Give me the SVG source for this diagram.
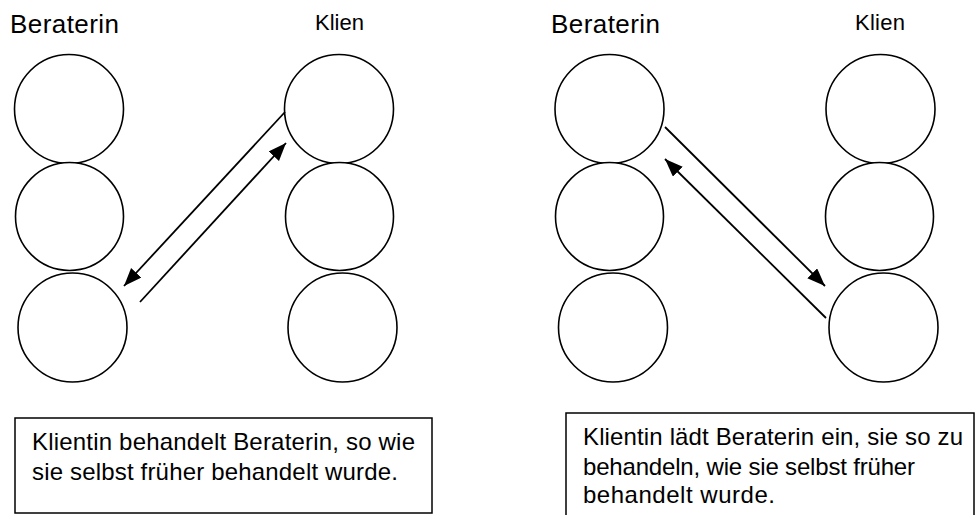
<svg xmlns="http://www.w3.org/2000/svg" width="976" height="515" viewBox="0 0 976 515">
  <style>
    .c { fill: #fff; stroke: #000; stroke-width: 1.6; }
    .lbl { font-family: "Liberation Sans", Arial, sans-serif; fill: #000; }
    .cap { font-size: 24px; }
    .box { fill: #fff; stroke: #000; stroke-width: 1.5; }
    .conn { stroke: #000; stroke-width: 1.8; fill: none; }
  </style>
  <defs>
    <marker id="ah" markerUnits="userSpaceOnUse" markerWidth="19" markerHeight="15" refX="18" refY="7" orient="auto">
      <path d="M0,0 L18,7 L0,14 z" fill="#000"/>
    </marker>
  </defs>
  <rect width="976" height="515" fill="#fff"/>

  <g id="title-berater-left"><text class="lbl" x="10" y="33" font-size="26" textLength="109" lengthAdjust="spacing">Beraterin</text></g>
  <g id="title-klien-left"><text class="lbl" x="315" y="30" font-size="22" textLength="49" lengthAdjust="spacing">Klien</text></g>
  <g id="title-berater-right"><text class="lbl" x="551" y="33" font-size="26" textLength="109" lengthAdjust="spacing">Beraterin</text></g>
  <g id="title-klien-right"><text class="lbl" x="855" y="30" font-size="22" textLength="50" lengthAdjust="spacing">Klien</text></g>

  <g id="L-B1"><circle class="c" cx="69" cy="109" r="54.5"/></g>
  <g id="L-B2"><circle class="c" cx="69.5" cy="216.5" r="54"/></g>
  <g id="L-B3"><circle class="c" cx="72.5" cy="327.5" r="54.5"/></g>
  <g id="L-K1"><circle class="c" cx="339" cy="109" r="54.5"/></g>
  <g id="L-K2"><circle class="c" cx="339.5" cy="216.5" r="54"/></g>
  <g id="L-K3"><circle class="c" cx="342.5" cy="327.5" r="54.5"/></g>

  <g id="R-B1"><circle class="c" cx="609.5" cy="109" r="54.5"/></g>
  <g id="R-B2"><circle class="c" cx="609.5" cy="216.5" r="54"/></g>
  <g id="R-B3"><circle class="c" cx="613" cy="327.5" r="54.5"/></g>
  <g id="R-K1"><circle class="c" cx="880.5" cy="109" r="54.5"/></g>
  <g id="R-K2"><circle class="c" cx="879.5" cy="216.5" r="54"/></g>
  <g id="R-K3"><circle class="c" cx="883.5" cy="327.5" r="54.5"/></g>

  <g id="connectors">
    <line class="conn" x1="285" y1="112" x2="124" y2="286" marker-end="url(#ah)"/>
    <line class="conn" x1="140" y1="302" x2="286" y2="143" marker-end="url(#ah)"/>
    <line class="conn" x1="665" y1="127" x2="825" y2="286" marker-end="url(#ah)"/>
    <line class="conn" x1="826" y1="318" x2="665" y2="159" marker-end="url(#ah)"/>
  </g>

  <g id="caption-left">
    <rect class="box" x="15" y="418" width="417" height="95"/>
    <text class="lbl cap" x="32" y="450" textLength="383" lengthAdjust="spacing">Klientin behandelt Beraterin, so wie</text>
    <text class="lbl cap" x="32" y="480" textLength="366" lengthAdjust="spacing">sie selbst früher behandelt wurde.</text>
  </g>

  <g id="caption-right">
    <rect class="box" x="566" y="413" width="408" height="110"/>
    <text class="lbl cap" x="583" y="445" textLength="380" lengthAdjust="spacing">Klientin lädt Beraterin ein, sie so zu</text>
    <text class="lbl cap" x="583" y="475" textLength="332" lengthAdjust="spacing">behandeln, wie sie selbst früher</text>
    <text class="lbl cap" x="583" y="503" textLength="192" lengthAdjust="spacing">behandelt wurde.</text>
  </g>
</svg>
